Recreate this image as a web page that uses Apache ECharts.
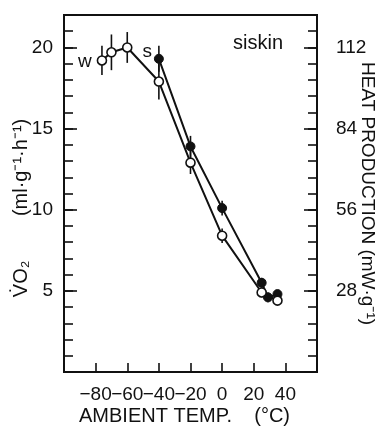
<!DOCTYPE html>
<html>
<head>
<meta charset="utf-8">
<script src="https://cdn.jsdelivr.net/npm/echarts@6/dist/echarts.min.js"></script>
<style>
  html, body { margin: 0; padding: 0; background: #fff; }
  #chart { width: 382px; height: 426px; }
</style>
</head>
<body>
<div id="chart"></div>
<script>
// ---- data ----
const xTicks = [-80, -60, -40, -20, 0, 20, 40];
const xTickLabels = ['−80', '−60', '−40', '−20', '0', '20', '40'];
const leftTicks = [5, 10, 15, 20];
const leftTickLabels = ['5', '10', '15', '20'];
const rightTickLabels = ['28', '56', '84', '112'];

// winter-acclimated (open circles)
const wTemp = [-76, -70, -60, -40, -20, 0, 25, 35];
const wVO2 = [19.2, 19.7, 20.0, 17.9, 12.9, 8.4, 4.9, 4.4];
const wErr = [0.9, 1.1, 0.95, 1.1, 0.7, 0.45, 0.3, 0.2];

// summer-acclimated (filled circles)
const sTemp = [-40, -20, 0, 25, 29, 35];
const sVO2 = [19.3, 13.9, 10.1, 5.5, 4.6, 4.8];
const sErr = [0.8, 0.65, 0.45, 0.3, 0.3, 0.2];

const seriesLabels = ['w', 's'];
const titleText = 'siskin';
const xName = 'AMBIENT TEMP.    (°C)';
const yNameLeft = 'V̇O₂        (ml·g⁻¹·h⁻¹)';
const yNameRight = 'HEAT PRODUCTION (mW·g⁻¹)';

// ---- chart ----
const FONT = 'Liberation Sans';
const NARROW = '"Liberation Sans Narrow", "Liberation Sans"';
const INK = '#111';

function pairs(xs, ys) { return xs.map((x, i) => [x, ys[i]]); }
function errData(xs, ys, es) { return xs.map((x, i) => [x, ys[i] - es[i], ys[i] + es[i]]); }

function errRender(params, api) {
  const x = api.value(0);
  const p1 = api.coord([x, api.value(1)]);
  const p2 = api.coord([x, api.value(2)]);
  return {
    type: 'line',
    shape: { x1: p1[0], y1: p1[1], x2: p2[0], y2: p2[1] },
    style: { stroke: INK, lineWidth: 1.6 }
  };
}

function lookup(keys, labels) {
  return function (v) {
    for (let i = 0; i < keys.length; i++) if (Math.abs(keys[i] - v) < 1e-6) return labels[i];
    return '';
  };
}

const chart = echarts.init(document.getElementById('chart'), null, { renderer: 'canvas' });

const axisLine = { show: true, onZero: false, lineStyle: { color: INK, width: 2 } };
const noLine = { show: false, onZero: false };

chart.setOption({
  animation: false,
  backgroundColor: '#fff',
  textStyle: { fontFamily: FONT, color: INK },
  title: {
    text: titleText,
    left: 233, top: 33, padding: 0,
    textStyle: { fontFamily: FONT, fontSize: 20, fontWeight: 'normal', color: INK }
  },
  grid: {
    left: 64, right: 65, top: 15, bottom: 54,
    containLabel: false, outerBoundsMode: 'none',
    show: true, borderColor: INK, borderWidth: 2, backgroundColor: 'transparent'
  },
  xAxis: {
    type: 'value', min: -100, max: 60, interval: 20,
    axisLine: axisLine,
    axisTick: { show: true, inside: true, length: 9, lineStyle: { color: INK, width: 1.6 } },
    splitLine: { show: false },
    axisLabel: {
      formatter: lookup(xTicks, xTickLabels),
      fontFamily: NARROW, fontSize: 19, color: INK, margin: 13
    },
    name: xName, nameLocation: 'middle', nameGap: 34, nameMoveOverlap: false,
    nameTextStyle: { fontFamily: FONT, fontSize: 20, color: INK, padding: [0, 12, 0, 0] }
  },
  yAxis: [
    {
      type: 'value', position: 'left', min: 0, max: 22, interval: 5,
      axisLine: axisLine,
      axisTick: { show: true, inside: true, length: 13, lineStyle: { color: INK, width: 1.6 } },
      splitLine: { show: false },
      axisLabel: {
        formatter: lookup(leftTicks, leftTickLabels),
        fontFamily: NARROW, fontSize: 19, color: INK, margin: 11
      },
      name: yNameLeft, nameLocation: 'middle', nameRotate: 90, nameGap: 33, nameMoveOverlap: false,
      nameTextStyle: { fontFamily: FONT, fontSize: 20, color: INK, padding: [0, 29, 0, 0] }
    },
    {
      type: 'value', position: 'left', min: 0, max: 22, interval: 1,
      axisLine: noLine,
      axisTick: { show: true, inside: true, length: 9, lineStyle: { color: INK, width: 1.6 } },
      splitLine: { show: false },
      axisLabel: { show: false }
    },
    {
      type: 'value', position: 'right', min: 0, max: 22, interval: 5,
      axisLine: axisLine,
      axisTick: { show: true, inside: true, length: 13, lineStyle: { color: INK, width: 1.6 } },
      splitLine: { show: false },
      axisLabel: {
        formatter: lookup(leftTicks, rightTickLabels),
        fontFamily: NARROW, fontSize: 19, color: INK, margin: 19
      },
      name: yNameRight, nameLocation: 'middle', nameRotate: -90, nameGap: 41, nameMoveOverlap: false,
      nameTextStyle: { fontFamily: FONT, fontSize: 19, color: INK }
    },
    {
      type: 'value', position: 'right', min: 0, max: 22, interval: 1,
      axisLine: noLine,
      axisTick: { show: true, inside: true, length: 9, lineStyle: { color: INK, width: 1.6 } },
      splitLine: { show: false },
      axisLabel: { show: false }
    }
  ],
  series: [
    {
      type: 'custom', name: 'wErr', yAxisIndex: 0, z: 2,
      renderItem: errRender, encode: { x: 0, y: [1, 2] },
      data: errData(wTemp, wVO2, wErr)
    },
    {
      type: 'custom', name: 'sErr', yAxisIndex: 0, z: 2,
      renderItem: errRender, encode: { x: 0, y: [1, 2] },
      data: errData(sTemp, sVO2, sErr)
    },
    {
      type: 'line', name: 's', yAxisIndex: 0, z: 3,
      data: pairs(sTemp, sVO2),
      symbol: 'circle', symbolSize: 9,
      lineStyle: { color: INK, width: 2 },
      itemStyle: { color: INK, borderColor: INK, borderWidth: 1 },
      label: {
        show: true, position: 'left', distance: 2, offset: [0, -7],
        fontFamily: FONT, fontSize: 19, color: INK,
        formatter: function (p) { return p.dataIndex === 0 ? seriesLabels[1] : ''; }
      }
    },
    {
      type: 'line', name: 'w', yAxisIndex: 0, z: 4,
      data: pairs(wTemp, wVO2),
      symbol: 'circle', symbolSize: 9,
      lineStyle: { color: INK, width: 2 },
      itemStyle: { color: '#fff', borderColor: INK, borderWidth: 1.6 },
      label: {
        show: true, position: 'left', distance: 5, offset: [0, 1],
        fontFamily: FONT, fontSize: 19, color: INK,
        formatter: function (p) { return p.dataIndex === 0 ? seriesLabels[0] : ''; }
      }
    }
  ]
});
</script>
</body>
</html>
